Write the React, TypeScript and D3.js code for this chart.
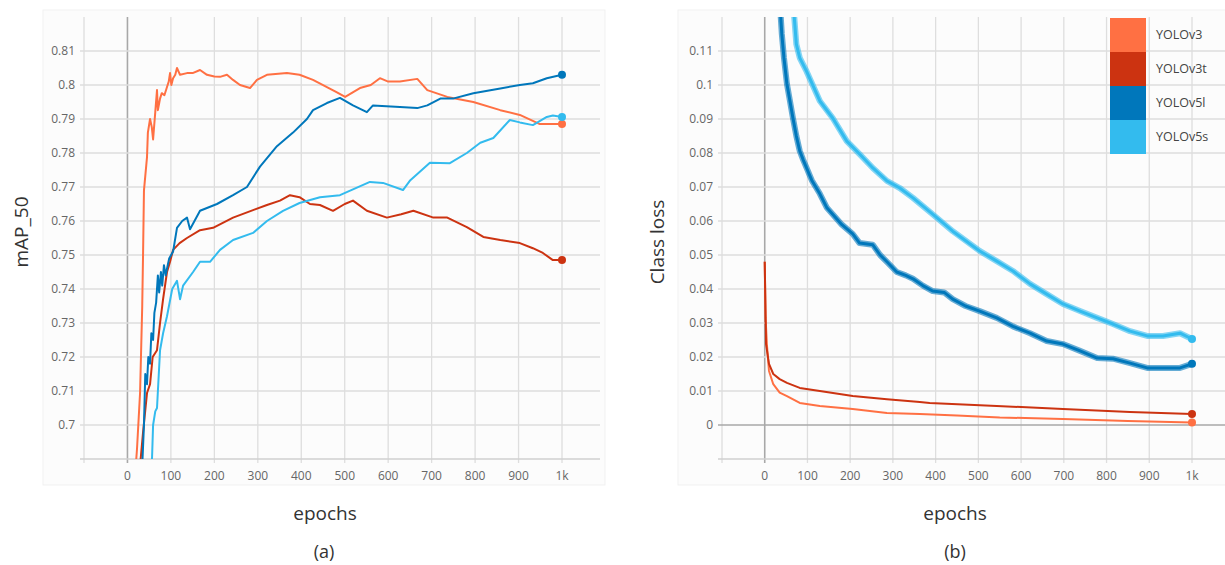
import React from "react";
import * as d3 from "d3";

const seriesNames = ["YOLOv3", "YOLOv3t", "YOLOv5l", "YOLOv5s"];
const seriesColors = ["#ff7043", "#cc3311", "#0077bb", "#33bbee"];
const legendLabels = ["YOLOv3", "YOLOv3t", "YOLOv5l", "YOLOv5s"];

const epochTicks = [-100, 0, 100, 200, 300, 400, 500, 600, 700, 800, 900, 1000];
const epochLabels = ["", "0", "100", "200", "300", "400", "500", "600", "700", "800", "900", "1k"];
const mapTicks = [0.69, 0.7, 0.71, 0.72, 0.73, 0.74, 0.75, 0.76, 0.77, 0.78, 0.79, 0.8, 0.81];
const mapLabels = ["", "0.7", "0.71", "0.72", "0.73", "0.74", "0.75", "0.76", "0.77", "0.78", "0.79", "0.8", "0.81"];
const lossTicks = [-0.01, 0, 0.01, 0.02, 0.03, 0.04, 0.05, 0.06, 0.07, 0.08, 0.09, 0.1, 0.11];
const lossLabels = ["", "0", "0.01", "0.02", "0.03", "0.04", "0.05", "0.06", "0.07", "0.08", "0.09", "0.1", "0.11"];

// (a) mAP_50 : [epoch, value]
const v3Map: [number, number][] = [
  [18, 0.686], [22, 0.693], [29, 0.7094], [34, 0.735], [36, 0.751], [38, 0.769], [45, 0.7788], [47, 0.786],
  [52, 0.79], [56, 0.7876], [59, 0.784], [64, 0.792], [68, 0.7985], [70, 0.7926], [75, 0.796], [79, 0.7976],
  [85, 0.797], [91, 0.7994], [95, 0.801], [98, 0.8035], [101, 0.8], [105, 0.802], [110, 0.803], [114, 0.805],
  [121, 0.803], [137, 0.8035], [150, 0.8035], [167, 0.8044], [183, 0.803], [200, 0.8025], [213, 0.8024],
  [229, 0.803], [243, 0.8015], [259, 0.8], [282, 0.7991], [298, 0.8015], [321, 0.803], [367, 0.8035],
  [396, 0.803], [427, 0.8015], [459, 0.7994], [480, 0.798], [501, 0.7965], [535, 0.7991], [560, 0.8],
  [581, 0.802], [600, 0.801], [627, 0.801], [667, 0.8018], [690, 0.7985], [736, 0.7965], [796, 0.795],
  [858, 0.7926], [903, 0.7912], [949, 0.7885], [1000, 0.7885],
];
const v3tMap: [number, number][] = [
  [29, 0.688], [36, 0.698], [45, 0.7094], [52, 0.712], [58, 0.72], [68, 0.722], [75, 0.73], [82, 0.737],
  [91, 0.745], [98, 0.748], [105, 0.7515], [120, 0.7535], [137, 0.755], [167, 0.7573], [197, 0.758],
  [243, 0.761], [289, 0.7632], [321, 0.7647], [351, 0.766], [374, 0.7676], [396, 0.767], [420, 0.765],
  [443, 0.7647], [473, 0.763], [500, 0.765], [519, 0.766], [551, 0.763], [597, 0.761], [630, 0.762],
  [658, 0.763], [704, 0.761], [736, 0.761], [781, 0.7582], [819, 0.7553], [858, 0.7544], [903, 0.7535],
  [933, 0.752], [956, 0.7506], [979, 0.7485], [1000, 0.7485],
];
const v5lMap: [number, number][] = [
  [34, 0.688], [38, 0.7], [41, 0.715], [45, 0.712], [48, 0.72], [52, 0.718], [55, 0.727], [59, 0.725],
  [62, 0.733], [66, 0.736], [70, 0.744], [73, 0.739], [77, 0.745], [80, 0.741], [84, 0.747], [88, 0.744],
  [91, 0.746], [96, 0.749], [105, 0.751], [114, 0.758], [126, 0.76], [137, 0.761], [144, 0.7576],
  [167, 0.763], [206, 0.765], [243, 0.7676], [275, 0.77], [305, 0.776], [344, 0.782], [381, 0.786],
  [413, 0.79], [427, 0.7926], [459, 0.7947], [489, 0.7962], [519, 0.794], [551, 0.792], [565, 0.794],
  [627, 0.7935], [667, 0.7932], [690, 0.794], [720, 0.796], [749, 0.796], [796, 0.7976], [858, 0.799],
  [903, 0.8], [933, 0.8005], [965, 0.802], [1000, 0.803],
];
const v5sMap: [number, number][] = [
  [56, 0.688], [59, 0.7], [64, 0.704], [68, 0.705], [75, 0.722], [82, 0.727], [91, 0.732], [103, 0.74],
  [114, 0.7424], [121, 0.737], [128, 0.741], [151, 0.745], [167, 0.748], [190, 0.748], [213, 0.7515],
  [243, 0.7544], [289, 0.7565], [321, 0.76], [358, 0.763], [396, 0.7653], [443, 0.767], [489, 0.7676],
  [558, 0.7715], [588, 0.7712], [634, 0.7691], [651, 0.772], [696, 0.7771], [742, 0.777], [781, 0.78],
  [812, 0.783], [842, 0.7844], [880, 0.7897], [903, 0.789], [933, 0.7882], [965, 0.7906], [979, 0.791],
  [1000, 0.7906],
];

// (b) Class loss : [epoch, value]
const v3Loss: [number, number][] = [
  [0, 0.048], [2, 0.0315], [5, 0.0238], [10, 0.0159], [20, 0.012], [35, 0.0095], [52, 0.0085], [82, 0.0065],
  [129, 0.0056], [206, 0.0047], [286, 0.0035], [363, 0.0032], [450, 0.0028], [550, 0.0022], [698, 0.0018],
  [850, 0.0012], [1000, 0.0007],
];
const v3tLoss: [number, number][] = [
  [0, 0.048], [3, 0.0238], [10, 0.018], [20, 0.015], [35, 0.0135], [52, 0.0124], [82, 0.0109], [129, 0.01],
  [206, 0.0085], [286, 0.0076], [363, 0.0068], [386, 0.0065], [543, 0.0056], [698, 0.0047], [855, 0.0038],
  [1000, 0.0032],
];
const v5lLoss: [number, number][] = [
  [35, 0.125], [40, 0.115], [45, 0.108], [52, 0.1003], [58, 0.096], [66, 0.0903], [74, 0.085], [82, 0.0806],
  [90, 0.078], [98, 0.0756], [110, 0.072], [129, 0.068], [145, 0.064], [159, 0.062], [180, 0.059],
  [206, 0.0562], [222, 0.0535], [253, 0.053], [270, 0.05], [286, 0.048], [309, 0.045], [330, 0.044],
  [347, 0.043], [370, 0.041], [393, 0.0394], [420, 0.039], [440, 0.037], [470, 0.035], [503, 0.0335],
  [543, 0.0315], [581, 0.029], [621, 0.027], [660, 0.0247], [698, 0.0238], [738, 0.0218], [778, 0.0197],
  [815, 0.0195], [855, 0.0182], [895, 0.0168], [932, 0.0168], [972, 0.0168], [1000, 0.018],
];
const v5sLoss: [number, number][] = [
  [66, 0.125], [74, 0.112], [82, 0.108], [98, 0.104], [129, 0.0953], [159, 0.0903], [192, 0.0835],
  [222, 0.0797], [253, 0.0756], [286, 0.0718], [316, 0.0697], [347, 0.0668], [393, 0.062], [440, 0.057],
  [503, 0.0512], [543, 0.0482], [581, 0.0453], [621, 0.0415], [660, 0.0385], [698, 0.0356], [738, 0.0335],
  [778, 0.0315], [815, 0.0297], [855, 0.0276], [895, 0.0262], [932, 0.0262], [972, 0.027], [1000, 0.0253],
];

const mapSeries = [v3Map, v3tMap, v5lMap, v5sMap];
const lossSeries = [v3Loss, v3tLoss, v5lLoss, v5sLoss];

const FONT = "'Open Sans', 'Noto Sans', sans-serif";

type PanelProps = {
  id: string;
  xRange: [number, number];
  gridRight: number;
  yDomain: [number, number];
  yTicks: number[];
  yLabels: string[];
  series: [number, number][][];
  noisy: boolean[];
  zeroH: boolean;
  panel: [number, number, number, number];
};

function Panel(p: PanelProps) {
  const top = 17, bottom = 459;
  const x = d3.scaleLinear().domain([-100, 1000]).range(p.xRange);
  const y = d3.scaleLinear().domain(p.yDomain).range([bottom, top]);
  const line = d3.line<[number, number]>().x((d) => x(d[0])).y((d) => y(d[1]));
  const gl = p.xRange[0] - 4;
  return (
    <g>
      <defs>
        <clipPath id={p.id}>
          <rect x={p.xRange[0]} y={top} width={p.gridRight - p.xRange[0]} height={bottom - top} />
        </clipPath>
      </defs>
      <rect x={p.panel[0]} y={p.panel[1]} width={p.panel[2]} height={p.panel[3]} fill="#fcfcfc" stroke="#f1f1f1" />
      {epochTicks.map((t) => (
        <line key={"v" + t} x1={x(t)} x2={x(t)} y1={top} y2={bottom + 4}
          stroke={t === 0 ? "#a8a8a8" : "#dedede"} strokeWidth={t === 0 ? 1.6 : 1.3} />
      ))}
      {p.yTicks.map((t, i) => (
        <line key={"h" + t} x1={gl} x2={p.gridRight} y1={y(t)} y2={y(t)}
          stroke={p.zeroH && t === 0 ? "#a8a8a8" : i === 0 ? "#d0d0d0" : "#dedede"}
          strokeWidth={p.zeroH && t === 0 ? 1.6 : 1.3} />
      ))}
      {p.yTicks.map((t, i) => (
        <text key={"yl" + t} x={p.xRange[0] - 9} y={y(t)} dy="0.35em" textAnchor="end"
          fontSize={12} fill="#666" fontFamily={FONT}>{p.yLabels[i]}</text>
      ))}
      {epochTicks.map((t, i) => (
        <text key={"xl" + t} x={x(t)} y={480} textAnchor="middle" fontSize={12} fill="#666"
          fontFamily={FONT}>{epochLabels[i]}</text>
      ))}
      <g clipPath={`url(#${p.id})`}>
        {p.series.map((s, i) =>
          p.noisy[i] ? (
            <path key={"n" + i} d={line(s) || ""} fill="none" stroke={seriesColors[i]} strokeWidth={6}
              strokeOpacity={0.6} strokeLinejoin="round" />
          ) : null
        )}
        {p.series.map((s, i) => (
          <path key={"s" + i} d={line(s) || ""} fill="none" stroke={seriesColors[i]}
            strokeWidth={p.noisy[i] ? 3 : 2} strokeLinejoin="round" />
        ))}
      </g>
      {p.series.map((s, i) => {
        const last = s[s.length - 1];
        return <circle key={"c" + i} cx={x(last[0])} cy={y(last[1])} r={4} fill={seriesColors[i]} />;
      })}
    </g>
  );
}

export default function App() {
  return (
    <svg width={1225} height={565} style={{ position: "absolute", left: 0, top: 0, background: "#fff" }}>
      <rect width={1225} height={565} fill="#fff" />
      <Panel id="clipA" xRange={[84, 562]} gridRight={600} yDomain={[0.69, 0.82]} yTicks={mapTicks}
        yLabels={mapLabels} series={mapSeries} noisy={[false, false, false, false]} zeroH={false}
        panel={[43, 10, 562, 475]} />
      <Panel id="clipB" xRange={[722, 1192]} gridRight={1225} yDomain={[-0.01, 0.12]} yTicks={lossTicks}
        yLabels={lossLabels} series={lossSeries} noisy={[false, false, true, true]} zeroH={true}
        panel={[678, 10, 560, 475]} />
      {seriesNames.map((n, i) => (
        <g key={n}>
          <rect x={1110} y={18 + i * 34} width={36} height={34} fill={seriesColors[i]} />
          <text x={1156} y={18 + i * 34 + 17} dy="0.35em" fontSize={12.5} fill="#444" fontFamily={FONT}>
            {legendLabels[i]}
          </text>
        </g>
      ))}
      <text transform="translate(28,232) rotate(-90)" textAnchor="middle" fontSize={19} fill="#333"
        fontFamily={FONT}>mAP_50</text>
      <text x={325} y={520} textAnchor="middle" fontSize={19} fill="#333" fontFamily={FONT}>epochs</text>
      <text x={324} y={558} textAnchor="middle" fontSize={18} fill="#333" fontFamily={FONT}>(a)</text>
      <text transform="translate(664,242) rotate(-90)" textAnchor="middle" fontSize={19} fill="#333"
        fontFamily={FONT}>Class loss</text>
      <text x={955} y={520} textAnchor="middle" fontSize={19} fill="#333" fontFamily={FONT}>epochs</text>
      <text x={955} y={558} textAnchor="middle" fontSize={18} fill="#333" fontFamily={FONT}>(b)</text>
    </svg>
  );
}
